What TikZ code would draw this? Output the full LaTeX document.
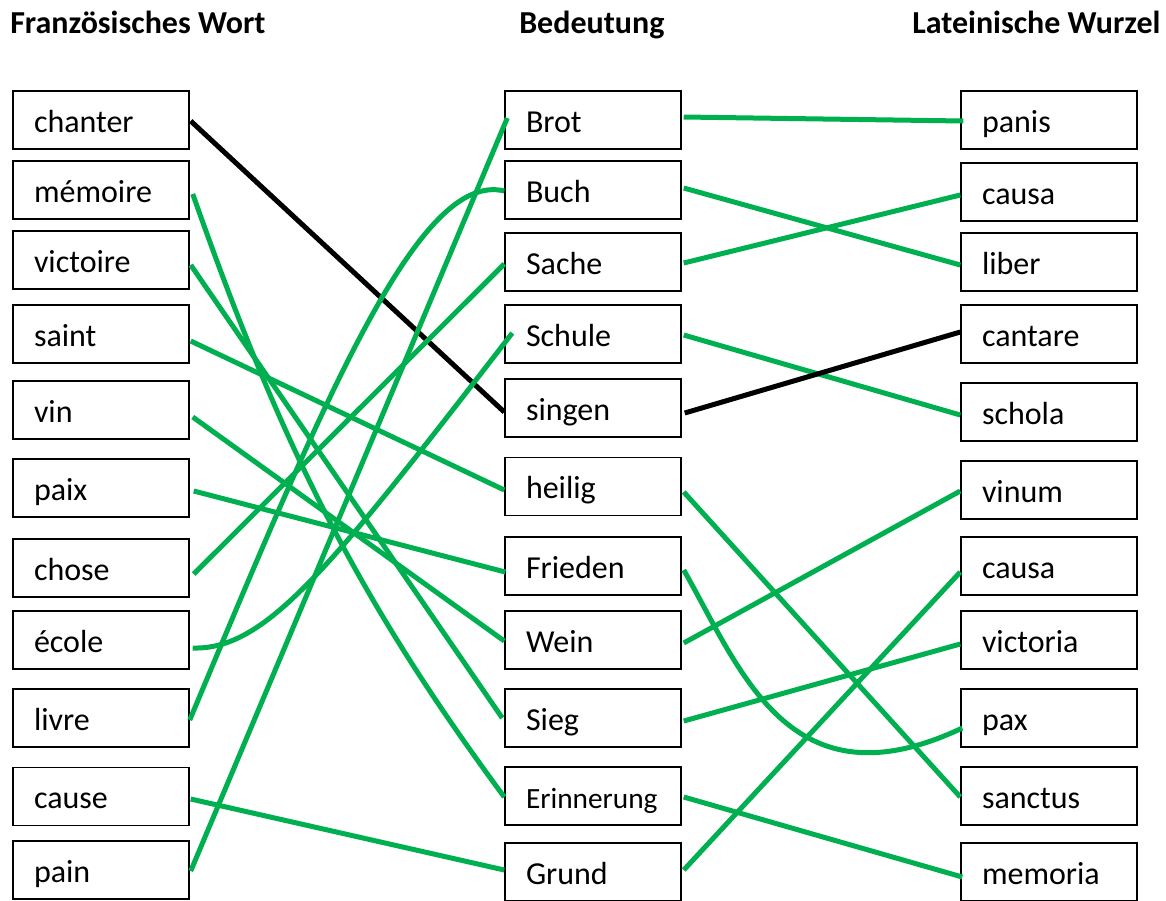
\documentclass[tikz,border=0pt]{standalone}
\usepackage{fontspec}
\setmainfont{Carlito}
\usetikzlibrary{calc}
\definecolor{wgreen}{HTML}{00B050}
\begin{document}
\begin{tikzpicture}[x=0.75pt,y=-0.75pt,
  wbox/.style={draw=black,line width=1.1pt,inner xsep=15.75pt,inner ysep=0pt,
    text width=100.5pt,align=left,text height=20pt,text depth=2pt,
    minimum height=43.5pt,font=\fontsize{24}{28}\selectfont},
  small/.style={font=\fontsize{22}{26}\selectfont},
  head/.style={anchor=base west,inner sep=0pt,font=\fontsize{24}{28}\selectfont\bfseries},
  gline/.style={draw=wgreen,line width=3.75pt},
  bline/.style={draw=black,line width=3.75pt}]
\useasboundingbox (0,0) rectangle (1166,900);

\node[head] (h1) at (10,33) {Französisches Wort};
\node[head] (h2) at (519,33) {Bedeutung};
\node[head] (h3) at (912,33) {Lateinische Wurzel};

% left column
\node[wbox] (chanter)  at (101,120)   {chanter};
\node[wbox] (memoire)  at (101,190)   {mémoire};
\node[wbox] (victoire) at (101,260)   {victoire};
\node[wbox] (saint)    at (101,334)   {saint};
\node[wbox] (vin)      at (101,410)   {vin};
\node[wbox] (paix)     at (101,488)   {paix};
\node[wbox] (chose)    at (101,568)   {chose};
\node[wbox] (ecole)    at (101,640)   {école};
\node[wbox] (livre)    at (101,718)   {livre};
\node[wbox] (cause)    at (101,796.5) {cause};
\node[wbox] (pain)     at (101,870)   {pain};

% middle column
\node[wbox] (brot)    at (593,120)   {Brot};
\node[wbox] (buch)    at (593,190)   {Buch};
\node[wbox] (sache)   at (593,262)   {Sache};
\node[wbox] (schule)  at (593,334)   {Schule};
\node[wbox] (singen)  at (593,408)   {singen};
\node[wbox] (heilig)  at (593,486.5) {heilig};
\node[wbox] (frieden) at (593,566)   {Frieden};
\node[wbox] (wein)    at (593,640)   {Wein};
\node[wbox] (sieg)    at (593,718)   {Sieg};
\node[wbox,small] (erinn) at (593,796) {Erinnerung};
\node[wbox] (grund)   at (593,872)   {Grund};

% right column
\node[wbox] (panis)    at (1049,120) {panis};
\node[wbox] (causa)    at (1049,192) {causa};
\node[wbox] (liber)    at (1049,262) {liber};
\node[wbox] (cantare)  at (1049,334) {cantare};
\node[wbox] (schola)   at (1049,412) {schola};
\node[wbox] (vinum)    at (1049,490) {vinum};
\node[wbox] (causab)   at (1049,566) {causa};
\node[wbox] (victoria) at (1049,640) {victoria};
\node[wbox] (pax)      at (1049,718) {pax};
\node[wbox] (sanctus)  at (1049,796) {sanctus};
\node[wbox] (memoria)  at (1049,872) {memoria};

% left -> middle
\draw[bline] ($(chanter.east)+(1,1)$) -- ($(singen.west)+(0,4)$);
\draw[gline] ($(memoire.east)+(3,4)$) .. controls +(88,250) and +(-148,-200) .. ($(erinn.west)+(0,1)$);
\draw[gline] ($(victoire.east)+(1,5)$) -- ($(sieg.west)+(-2,0)$);
\draw[gline] ($(saint.east)+(1,7)$) -- ($(heilig.west)+(0,3.5)$);
\draw[gline] ($(vin.east)+(3,7)$) -- ($(wein.west)+(0,1)$);
\draw[gline] ($(paix.east)+(4,3)$) -- ($(frieden.west)+(1,6)$);
\draw[gline] ($(chose.east)+(4,6)$) -- ($(sache.west)+(0,2)$);
\draw[gline] ($(ecole.east)+(3,8)$) .. controls +(73,2) and +(-183,237) .. ($(schule.west)+(8,-1)$);
\draw[gline] ($(livre.east)+(0,2)$) .. controls +(136,-325) and +(-85,-21) .. ($(buch.west)+(0,1)$);
\draw[gline] ($(cause.east)+(1,2.5)$) -- ($(grund.west)+(0,-2)$);
\draw[gline] ($(pain.east)+(1,1)$) -- ($(brot.west)+(3,-2)$);

% middle -> right
\draw[gline] ($(brot.east)+(2,-3)$) -- ($(panis.west)+(3,1)$);
\draw[gline] ($(buch.east)+(2,-2)$) -- ($(liber.west)+(0,3)$);
\draw[gline] ($(sache.east)+(2,1)$) -- ($(causa.west)+(0,3)$);
\draw[gline] ($(schule.east)+(2,1)$) -- ($(schola.west)+(0,3)$);
\draw[bline] ($(singen.east)+(3,5)$) -- ($(cantare.west)+(0,-2)$);
\draw[gline] ($(heilig.east)+(2,5.5)$) -- ($(sanctus.west)+(0,1)$);
\draw[gline] ($(frieden.east)+(2,4)$) .. controls +(57,100) and +(-173,82) .. ($(pax.west)+(2,10)$);
\draw[gline] ($(wein.east)+(2,3)$) -- ($(vinum.west)+(0,1)$);
\draw[gline] ($(sieg.east)+(2,3)$) -- ($(victoria.west)+(0,4)$);
\draw[gline] ($(erinn.east)+(2,1)$) -- ($(memoria.west)+(2,5)$);
\draw[gline] ($(grund.east)+(2,-2)$) -- ($(causab.west)+(0,6)$);
\end{tikzpicture}
\end{document}
